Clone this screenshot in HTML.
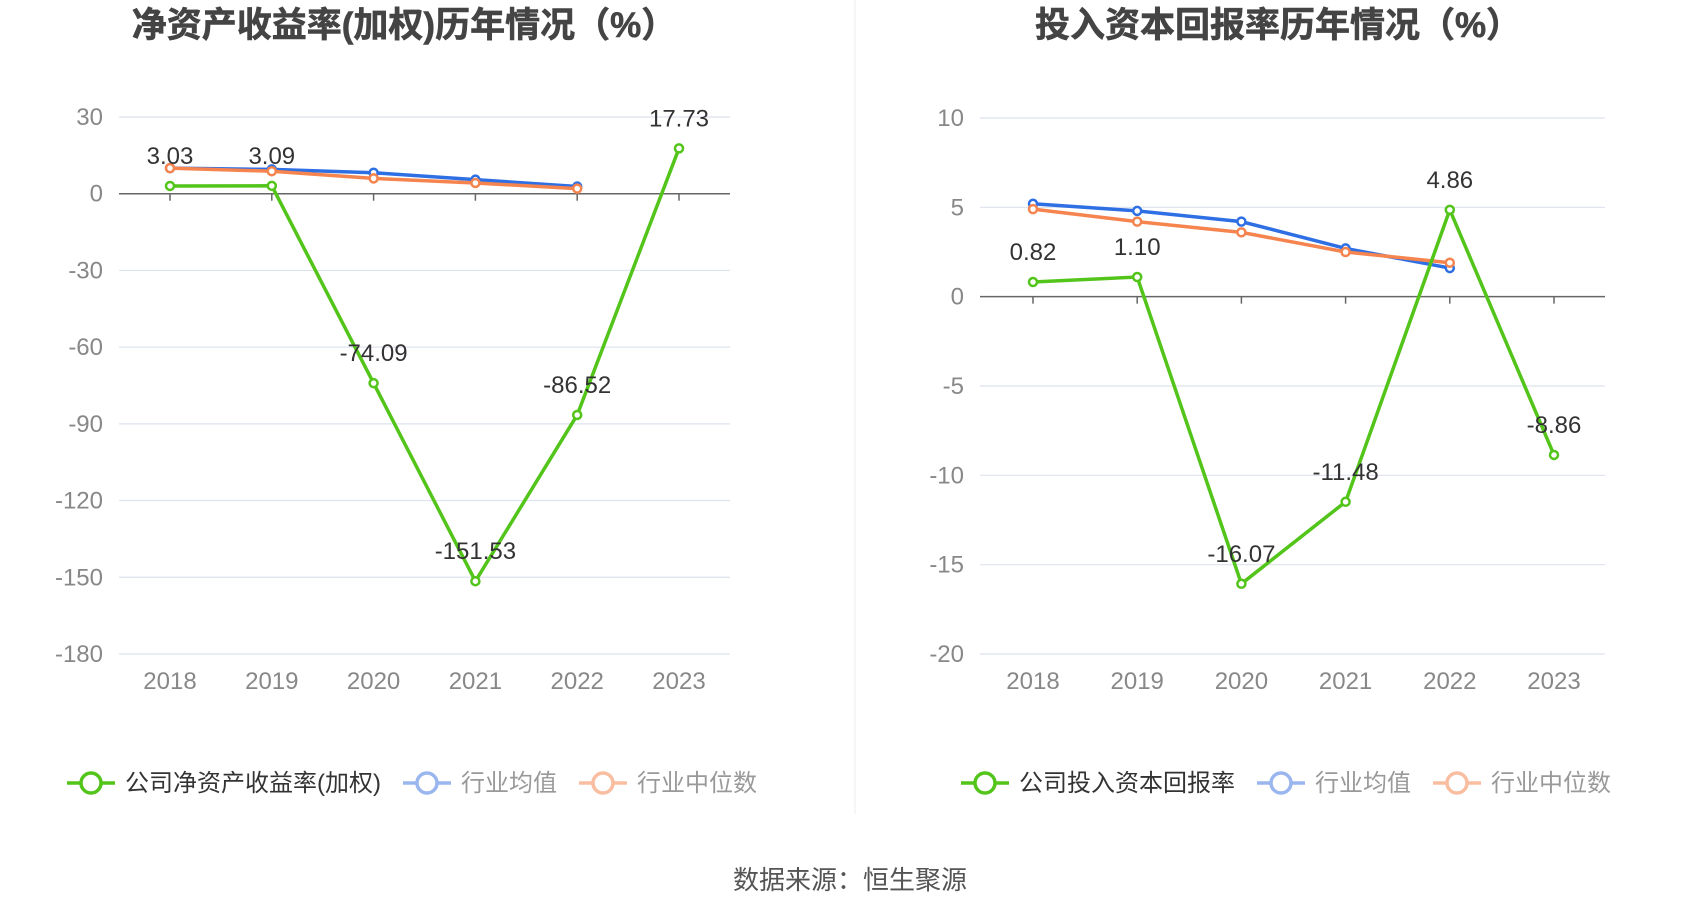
<!DOCTYPE html>
<html><head><meta charset="utf-8"><style>
body{margin:0;background:#fff;font-family:"Liberation Sans","Noto Sans CJK SC",sans-serif;}
svg text{font-family:"Liberation Sans","Noto Sans CJK SC",sans-serif;}
</style></head><body>
<svg id="s" width="1700" height="918" xmlns="http://www.w3.org/2000/svg">
<line x1="855" y1="0" x2="855" y2="814" stroke="#eee" stroke-width="1"/>
<text x="404" y="37" text-anchor="middle" font-size="35" font-weight="bold" fill="#444" stroke="#444" stroke-width="0.6">净资产收益率(加权)历年情况（%）</text>
<text x="1278" y="37" text-anchor="middle" font-size="35" font-weight="bold" fill="#444" stroke="#444" stroke-width="0.6">投入资本回报率历年情况（%）</text>
<text x="850" y="889" text-anchor="middle" font-size="26" fill="#555">数据来源：恒生聚源</text>
<g id="left"></g>
<g id="right"></g>
</svg>
<script>
const years=["2018","2019","2020","2021","2022","2023"];
const roeCompany=[3.03,3.09,-74.09,-151.53,-86.52,17.73];
const roeAvg=[10,9.5,8.2,5.5,2.8];
const roeMedian=[10,8.8,6,4.2,2];
const roeTicks=[30,0,-30,-60,-90,-120,-150,-180];
const roicCompany=[0.82,1.10,-16.07,-11.48,4.86,-8.86];
const roicAvg=[5.2,4.8,4.2,2.7,1.6];
const roicMedian=[4.9,4.2,3.6,2.5,1.9];
const roicTicks=[10,5,0,-5,-10,-15,-20];
const NS="http://www.w3.org/2000/svg";
function mk(parent,tag,attrs){const e=document.createElementNS(NS,tag);for(const k in attrs)e.setAttribute(k,attrs[k]);parent.appendChild(e);return e;}
function draw(g,cfg){
  const y=v=>cfg.y0+(cfg.max-v)/(cfg.max-cfg.min)*(cfg.y1-cfg.y0);
  const x=i=>cfg.xa+i*(cfg.xb-cfg.xa)/5;
  cfg.ticks.forEach(t=>{
    const l=mk(g,'line',{x1:cfg.gx0,x2:cfg.gx1,y1:y(t),y2:y(t),stroke:t===0?'#666':'#dde3ee','stroke-width':t===0?1.5:1.2});
    
    
    const tx=mk(g,'text',{x:cfg.gx0-16,y:y(t)+8,'text-anchor':'end','font-size':24,fill:'#888'});
    tx.textContent=t;
    
    
  });
  years.forEach((yr,i)=>{
    const tk=mk(g,'line',{x1:x(i),x2:x(i),y1:y(0),y2:y(0)+7,stroke:'#666','stroke-width':1.5});
    
    
    const t=mk(g,'text',{x:x(i),y:cfg.xl,'text-anchor':'middle','font-size':24,fill:'#888'});
    t.textContent=yr;
    
    
  });
  const series=[[cfg.avg,'#2f6fe4','industry-average-line'],[cfg.med,'#f5844f','industry-median-line'],[cfg.comp,'#52c41a','company-line']];
  series.forEach(([d,c,n])=>{
    const p=mk(g,'polyline',{points:d.map((v,i)=>x(i)+','+y(v)).join(' '),fill:'none',stroke:c,'stroke-width':3.5});
    
    
    d.forEach((v,i)=>{
      const ci=mk(g,'circle',{cx:x(i),cy:y(v),r:4,fill:'#fff',stroke:c,'stroke-width':2.5});
      
      
    });
  });
  cfg.comp.forEach((v,i)=>{
    const t=mk(g,'text',{x:x(i),y:y(v)-22,'text-anchor':'middle','font-size':24,fill:'#333'});
    t.textContent=v.toFixed(2);
    
    
  });
  const lg=mk(g,'g',{});
  
  
  let lx=cfg.lgx;
  [[cfg.lname,'#52c41a','#333'],['行业均值','#9ab6ef','#999'],['行业中位数','#f9bda0','#999']].forEach(([n,c,tc])=>{
    mk(lg,'line',{x1:lx,x2:lx+48,y1:783,y2:783,stroke:c,'stroke-width':3.5});
    mk(lg,'circle',{cx:lx+24,cy:783,r:10,fill:'#fff',stroke:c,'stroke-width':3.5});
    const t=mk(lg,'text',{x:lx+58,y:791,'font-size':24,fill:tc});
    t.textContent=n;
    
    
    lx+=58+t.getComputedTextLength()+22;
  });
}
draw(document.getElementById('left'),{max:30,min:-180,y0:117,y1:654,xa:170,xb:679,gx0:119,gx1:730,xl:689,ticks:roeTicks,comp:roeCompany,avg:roeAvg,med:roeMedian,lgx:67,lname:'公司净资产收益率(加权)'});
draw(document.getElementById('right'),{max:10,min:-20,y0:118,y1:654,xa:1033,xb:1554,gx0:980,gx1:1605,xl:689,ticks:roicTicks,comp:roicCompany,avg:roicAvg,med:roicMedian,lgx:961,lname:'公司投入资本回报率'});
</script>
</body></html>
